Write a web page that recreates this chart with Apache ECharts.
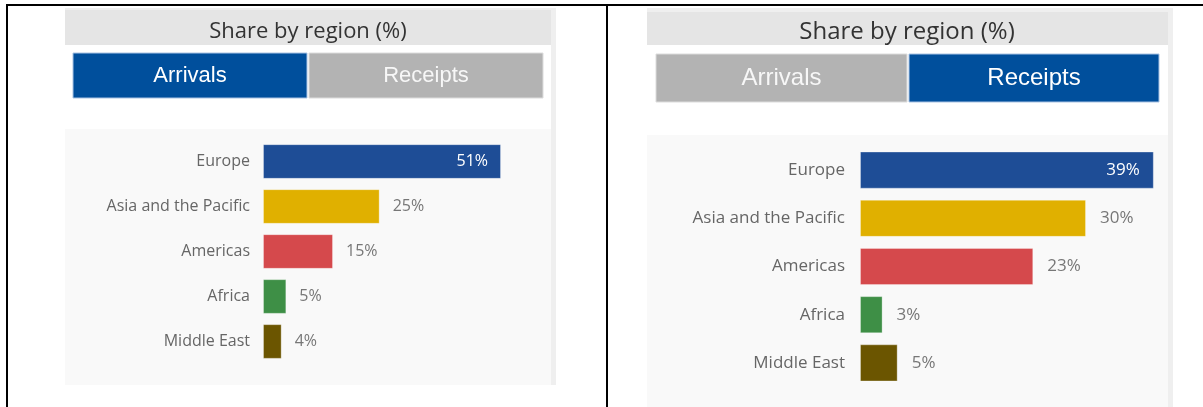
<!DOCTYPE html>
<html>
<head>
<meta charset="utf-8">
<title>Share by region (%)</title>
<script src="https://cdn.jsdelivr.net/npm/echarts@6/dist/echarts.min.js"></script>
<style>
  html, body { margin: 0; padding: 0; background: #fff; }
  #chart { width: 1203px; height: 407px; }
</style>
</head>
<body>
<div id="chart"></div>
<script>
// data
const regions = ['Europe', 'Asia and the Pacific', 'Americas', 'Africa', 'Middle East'];
const arrivals = [51, 25, 15, 5, 4];
const receipts = [39, 30, 23, 3, 5];
const regionColors = ['#1e4d96', '#e0b000', '#d5494c', '#3e8f46', '#6b5500'];

const chart = echarts.init(document.getElementById('chart'));

// bars: biggest one gets its label inside, the rest outside
function barData(values, insideColor) {
  const top = Math.max.apply(null, values);
  return values.map((v, i) => {
    const item = { value: v, itemStyle: { color: regionColors[i] } };
    if (v === top) item.label = { position: 'insideRight', color: insideColor };
    return item;
  });
}

// a tab button, drawn with graphic
function button(x, y, w, h, text, active, size) {
  return {
    type: 'group',
    x: x, y: y,
    z: 1,
    children: [
      {
        type: 'rect',
        shape: { x: 0, y: 0, width: w, height: h },
        style: {
          fill: active ? '#004f9c' : '#b3b3b3',
          stroke: active ? '#a9c3e3' : '#dcdcdc',
          lineWidth: 1
        }
      },
      {
        type: 'text',
        x: w / 2, y: h / 2,
        style: {
          text: text,
          fill: active ? '#ffffff' : '#f7f7f7',
          font: size + 'px "Liberation Sans", Arial, sans-serif',
          align: 'center',
          verticalAlign: 'middle'
        }
      }
    ]
  };
}

function rect(x, y, w, h, fill) {
  return { type: 'rect', z: 0, shape: { x: x, y: y, width: w, height: h }, style: { fill: fill } };
}

const option = {
  animation: false,
  backgroundColor: '#ffffff',
  title: [
    {
      text: 'Share by region (%)',
      left: 303, top: 16,
      textAlign: 'center',
      textStyle: { fontFamily: 'Open Sans', fontSize: 22, fontWeight: 'normal', color: '#333' }
    },
    {
      text: 'Share by region (%)',
      left: 902, top: 15,
      textAlign: 'center',
      textStyle: { fontFamily: 'Open Sans', fontSize: 24, fontWeight: 'normal', color: '#333' }
    }
  ],
  graphic: [
    // left card
    rect(65, 8, 491, 377, '#efefef'),
    rect(65, 10, 486, 35, '#e5e5e5'),
    rect(65, 45, 486, 84, '#ffffff'),
    rect(65, 129, 486, 256, '#f9f9f9'),
    button(73, 53, 234, 45, 'Arrivals', true, 22),
    button(309, 53, 234, 45, 'Receipts', false, 22),
    // right card
    rect(647, 8, 526, 399, '#efefef'),
    rect(647, 12, 521, 33, '#e5e5e5'),
    rect(647, 45, 521, 90, '#ffffff'),
    rect(647, 135, 521, 272, '#f9f9f9'),
    button(656, 54, 251, 48, 'Arrivals', false, 24),
    button(909, 54, 250, 48, 'Receipts', true, 24),
    // table borders
    { type: 'line', z: 5, shape: { x1: 6, y1: 5, x2: 1203, y2: 5 }, style: { stroke: '#000', lineWidth: 2 } },
    { type: 'line', z: 5, shape: { x1: 7, y1: 4, x2: 7, y2: 407 }, style: { stroke: '#000', lineWidth: 2 } },
    { type: 'line', z: 5, shape: { x1: 607, y1: 4, x2: 607, y2: 407 }, style: { stroke: '#000', lineWidth: 2 } }
  ],
  grid: [
    { left: 263, top: 139, width: 280, height: 225 },
    { left: 860, top: 146, width: 339, height: 241 }
  ],
  xAxis: [
    { type: 'value', gridIndex: 0, min: 0, max: 60, show: false },
    { type: 'value', gridIndex: 1, min: 0, max: 45, show: false }
  ],
  yAxis: [
    {
      type: 'category', gridIndex: 0, inverse: true, data: regions,
      axisLine: { show: false }, axisTick: { show: false }, splitLine: { show: false },
      axisLabel: { fontFamily: 'Open Sans', fontSize: 16, color: '#666', margin: 13 }
    },
    {
      type: 'category', gridIndex: 1, inverse: true, data: regions,
      axisLine: { show: false }, axisTick: { show: false }, splitLine: { show: false },
      axisLabel: { fontFamily: 'Open Sans', fontSize: 17, color: '#666', margin: 15 }
    }
  ],
  series: [
    {
      name: 'Arrivals',
      type: 'bar',
      xAxisIndex: 0, yAxisIndex: 0,
      barCategoryGap: '23%',
      itemStyle: { borderColor: 'rgba(255,255,255,0.3)', borderWidth: 1 },
      label: {
        show: true, position: 'right', distance: 13,
        formatter: '{c}%',
        fontFamily: 'Open Sans', fontSize: 16, color: '#777'
      },
      data: barData(arrivals, '#fff')
    },
    {
      name: 'Receipts',
      type: 'bar',
      xAxisIndex: 1, yAxisIndex: 1,
      barCategoryGap: '23%',
      itemStyle: { borderColor: 'rgba(255,255,255,0.3)', borderWidth: 1 },
      label: {
        show: true, position: 'right', distance: 14,
        formatter: '{c}%',
        fontFamily: 'Open Sans', fontSize: 17, color: '#777'
      },
      data: barData(receipts, '#fff')
    }
  ]
};

chart.setOption(option);
window.addEventListener('resize', () => chart.resize());
</script>
</body>
</html>
